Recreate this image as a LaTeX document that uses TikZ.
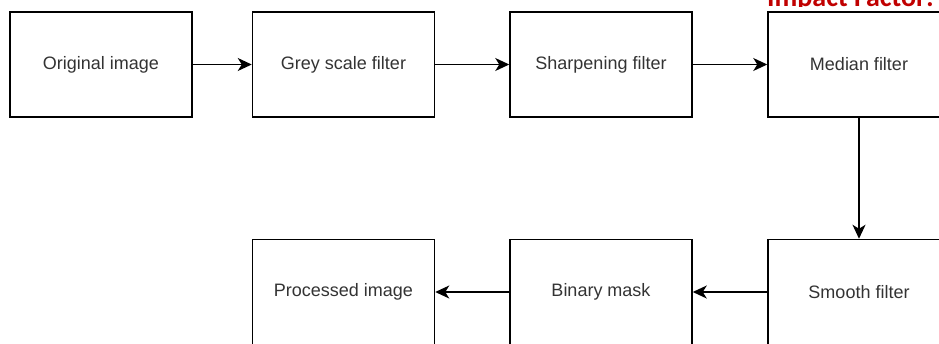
\documentclass[tikz,border=0pt]{standalone}
\usepackage{fontspec}
\setmainfont{Liberation Sans}
\newfontfamily\carlfont{Carlito}
\usetikzlibrary{arrows.meta}
\definecolor{txtgray}{HTML}{333333}
\definecolor{ifred}{HTML}{C00000}
\begin{document}
\begin{tikzpicture}[x=1pt,y=-1pt,
  box/.style={draw=black, line width=1.5pt, minimum width=182pt, minimum height=105pt,
    inner sep=0pt, font=\fontsize{18}{20}\selectfont, text=txtgray},
  conn/.style={line width=1.5pt, -{Stealth[length=14pt,width=13pt,inset=4pt]}}]
\useasboundingbox (0,0) rectangle (939,343);
\clip (0,0) rectangle (939,343);
\begin{scope}
  \clip (0,0) rectangle (939,6);
  \node[anchor=base west, inner sep=0pt, text=ifred,
    font=\carlfont\bfseries\fontsize{28}{30}\selectfont] (impact) at (767,6.5) {Impact Factor:};
\end{scope}
\node[box] (orig) at (101,64.5) {Original image};
\node[box] (grey) at (343.5,64.5) {Grey scale filter};
\node[box] (sharp) at (601,64.5) {Sharpening filter};
\node[box] (median) at (859,64.5) {Median filter};
\node[box] (smooth) at (859,292) {Smooth filter};
\node[box] (binary) at (601,292) {Binary mask};
\node[box] (proc) at (343.5,292) {Processed image};
\draw[conn] (orig) -- (grey);
\draw[conn] (grey) -- (sharp);
\draw[conn] (sharp) -- (median);
\draw[conn] (median) -- (smooth);
\draw[conn] (smooth) -- (binary);
\draw[conn] (binary) -- (proc);
\end{tikzpicture}
\end{document}
